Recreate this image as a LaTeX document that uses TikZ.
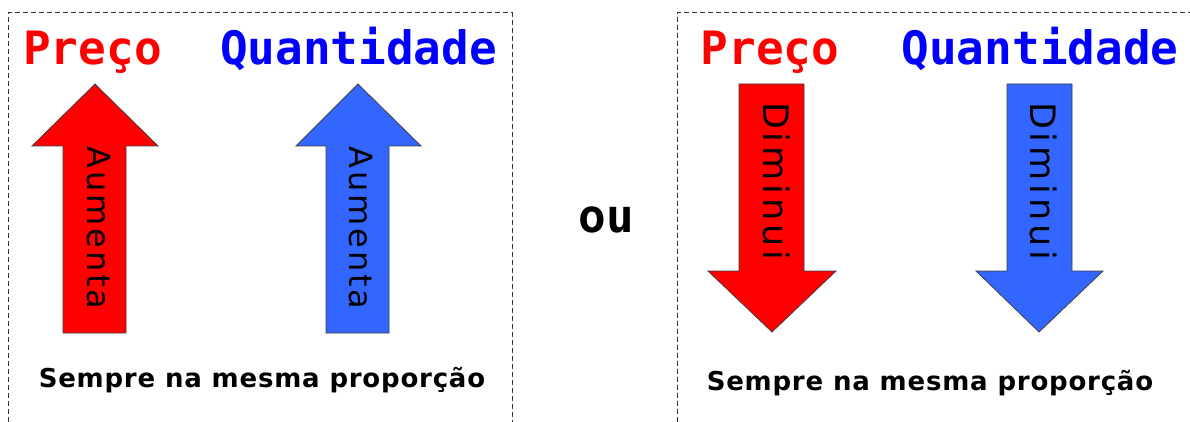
\documentclass[tikz,border=0pt]{standalone}
\usepackage{fontspec}
\newfontfamily\titlefont{DejaVu Sans Mono}[BoldFont={DejaVu Sans Mono Bold}]
\newfontfamily\vafont{DejaVu Sans}[LetterSpace=9]
\newfontfamily\vdfont{DejaVu Sans}[LetterSpace=11]
\newfontfamily\botfont{DejaVu Sans}[BoldFont={DejaVu Sans Bold},LetterSpace=3]
\definecolor{arrred}{HTML}{FF0000}
\definecolor{arrblue}{HTML}{3366FF}
\definecolor{titred}{HTML}{FF0000}
\definecolor{titblue}{HTML}{0000FF}
\definecolor{edgegray}{HTML}{404040}
\definecolor{framegray}{HTML}{333333}
\tikzset{
  framebox/.style={draw=framegray, line width=1pt, dash pattern=on 5pt off 3pt},
  bigarrow/.style={draw=edgegray, line width=0.8pt},
  titletext/.style={inner sep=0pt, anchor=base, font=\titlefont\bfseries\fontsize{46}{50}\selectfont},
  uptext/.style={inner sep=0pt, anchor=base, rotate=-90, font=\vafont\fontsize{32}{36}\selectfont},
  downtext/.style={inner sep=0pt, anchor=base, rotate=-90, font=\vdfont\fontsize{35}{38}\selectfont},
  bottext/.style={inner sep=0pt, anchor=base, font=\botfont\bfseries\fontsize{26}{30}\selectfont}
}
\begin{document}
\begin{tikzpicture}[x=1pt,y=-1pt]
\useasboundingbox (0,0) rectangle (1190,422);
\fill[white] (0,0) rectangle (1190,422);
% frames
\draw[framebox] (8,422) -- (8,13) -- (512,13) -- (512,422);
\draw[framebox] (677,422) -- (677,13) -- (1190,13);
% titles
\node[titletext, text=titred] (p1) at (92.5,65) {Preço};
\node[titletext, text=titblue] (q1) at (358.5,65) {Quantidade};
\node[titletext, text=titred] (p2) at (770,65) {Preço};
\node[titletext, text=titblue] (q2) at (1040,65) {Quantidade};
% arrows
\draw[bigarrow, fill=arrred] (63,333) -- (63,146) -- (32,146) -- (95,84) -- (158,146) -- (126,146) -- (126,333) -- cycle;
\draw[bigarrow, fill=arrblue] (326,333) -- (326,146) -- (296,146) -- (358,84) -- (421,146) -- (389,146) -- (389,333) -- cycle;
\draw[bigarrow, fill=arrred] (739,84) -- (804,84) -- (804,271) -- (836,271) -- (772,332) -- (708,271) -- (739,271) -- cycle;
\draw[bigarrow, fill=arrblue] (1007,84) -- (1072,84) -- (1072,271) -- (1103,271) -- (1039,332) -- (976,271) -- (1007,271) -- cycle;
% arrow texts
\node[uptext] (a1) at (87,228) {Aumenta};
\node[uptext] (a2) at (349,228) {Aumenta};
\node[downtext] (d1) at (763,181) {Diminui};
\node[downtext] (d2) at (1030,181) {Diminui};
% middle
\node[titletext] (ou) at (606,232) {ou};
% bottom
\node[bottext] (s1) at (262,387) {Sempre na mesma proporção};
\node[bottext] (s2) at (930,390) {Sempre na mesma proporção};
\end{tikzpicture}
\end{document}
